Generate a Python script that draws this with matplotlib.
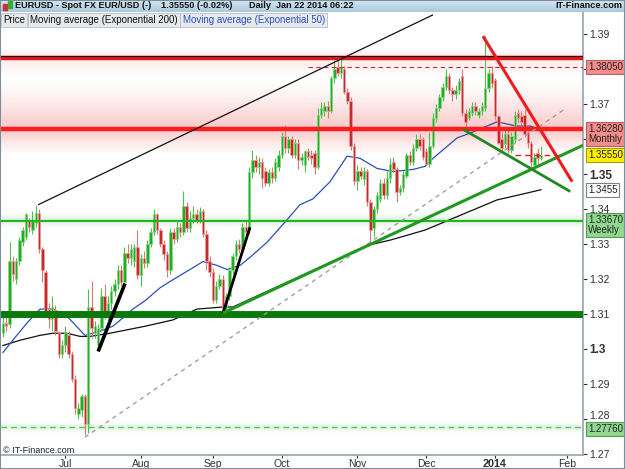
import matplotlib
matplotlib.use("Agg")
import matplotlib.pyplot as plt
import matplotlib.transforms as mtransforms
from matplotlib.colors import LinearSegmentedColormap
from matplotlib.patches import Rectangle
import numpy as np
import pandas as pd

plt.rcParams["font.family"] = ["Liberation Sans", "DejaVu Sans"]

# trading calendar (no bars on Dec 25 / Jan 1)
all_days = pd.bdate_range("2013-06-04", "2014-02-28")
all_days = all_days[~all_days.isin(pd.to_datetime(["2013-12-25", "2014-01-01"]))]
n_bars = 165
dates = all_days[:n_bars]

# EURUSD daily OHLC
opens = [
    1.3045, 1.3075, 1.3070, 1.3250, 1.3200, 1.3250, 1.3305, 1.3320, 1.3365, 1.3340,
    1.3360, 1.3390, 1.3285, 1.3220, 1.3115, 1.3085, 1.3110, 1.3045, 1.2985, 1.3010,
    1.3040, 1.2985, 1.2915, 1.2815, 1.2825, 1.2865, 1.2785, 1.3120, 1.3045, 1.3010,
    1.3060, 1.3150, 1.3100, 1.3130, 1.3165, 1.3185, 1.3225, 1.3190, 1.3275, 1.3260,
    1.3250, 1.3290, 1.3210, 1.3260, 1.3245, 1.3300, 1.3335, 1.3385, 1.3340, 1.3300,
    1.3270, 1.3225, 1.3335, 1.3315, 1.3350, 1.3335, 1.3410, 1.3345, 1.3375, 1.3385,
    1.3370, 1.3395, 1.3330, 1.3250, 1.3220, 1.3140, 1.3180, 1.3200, 1.3115, 1.3150,
    1.3225, 1.3265, 1.3300, 1.3285, 1.3350, 1.3340, 1.3505, 1.3540, 1.3520, 1.3535,
    1.3510, 1.3475, 1.3505, 1.3490, 1.3520, 1.3555, 1.3610, 1.3575, 1.3600, 1.3555,
    1.3590, 1.3540, 1.3525, 1.3565, 1.3555, 1.3560, 1.3520, 1.3670, 1.3680, 1.3695,
    1.3680, 1.3775, 1.3805, 1.3790, 1.3800, 1.3735, 1.3710, 1.3580, 1.3480, 1.3510,
    1.3485, 1.3510, 1.3420, 1.3345, 1.3400, 1.3430, 1.3475, 1.3440, 1.3490, 1.3535,
    1.3515, 1.3450, 1.3460, 1.3495, 1.3555, 1.3535, 1.3575, 1.3600, 1.3600, 1.3565,
    1.3530, 1.3580, 1.3660, 1.3690, 1.3720, 1.3750, 1.3780, 1.3740, 1.3730, 1.3740,
    1.3780, 1.3675, 1.3660, 1.3675, 1.3695, 1.3670, 1.3680, 1.3690, 1.3745, 1.3790,
    1.3770, 1.3665, 1.3600, 1.3585, 1.3615, 1.3570, 1.3600, 1.3675, 1.3665, 1.3670,
    1.3620, 1.3590, 1.3525, 1.3560, 1.3545,
]
highs = [
    1.3090, 1.3095, 1.3305, 1.3265, 1.3260, 1.3320, 1.3350, 1.3390, 1.3375, 1.3395,
    1.3412, 1.3400, 1.3290, 1.3225, 1.3130, 1.3150, 1.3125, 1.3050, 1.3025, 1.3065,
    1.3050, 1.2995, 1.2925, 1.2845, 1.2870, 1.2870, 1.3170, 1.3195, 1.3080, 1.3070,
    1.3175, 1.3185, 1.3150, 1.3180, 1.3200, 1.3240, 1.3240, 1.3290, 1.3300, 1.3300,
    1.3300, 1.3340, 1.3270, 1.3280, 1.3310, 1.3345, 1.3400, 1.3390, 1.3345, 1.3310,
    1.3280, 1.3345, 1.3345, 1.3370, 1.3360, 1.3452, 1.3420, 1.3395, 1.3410, 1.3400,
    1.3405, 1.3400, 1.3340, 1.3265, 1.3230, 1.3195, 1.3215, 1.3210, 1.3160, 1.3235,
    1.3275, 1.3310, 1.3315, 1.3360, 1.3365, 1.3520, 1.3570, 1.3555, 1.3550, 1.3545,
    1.3520, 1.3515, 1.3520, 1.3545, 1.3570, 1.3620, 1.3640, 1.3610, 1.3610, 1.3600,
    1.3600, 1.3560, 1.3570, 1.3575, 1.3570, 1.3570, 1.3690, 1.3705, 1.3705, 1.3710,
    1.3780, 1.3825, 1.3830, 1.3832, 1.3810, 1.3745, 1.3720, 1.3590, 1.3525, 1.3520,
    1.3520, 1.3515, 1.3430, 1.3410, 1.3450, 1.3485, 1.3490, 1.3510, 1.3545, 1.3550,
    1.3520, 1.3470, 1.3510, 1.3560, 1.3565, 1.3585, 1.3615, 1.3615, 1.3605, 1.3575,
    1.3620, 1.3675, 1.3700, 1.3730, 1.3760, 1.3800, 1.3790, 1.3750, 1.3755, 1.3775,
    1.3800, 1.3685, 1.3690, 1.3705, 1.3705, 1.3690, 1.3705, 1.3894, 1.3800, 1.3810,
    1.3775, 1.3670, 1.3620, 1.3625, 1.3625, 1.3620, 1.3680, 1.3685, 1.3680, 1.3685,
    1.3630, 1.3595, 1.3560, 1.3575, 1.3580,
]
lows = [
    1.3035, 1.3050, 1.3060, 1.3195, 1.3185, 1.3240, 1.3295, 1.3310, 1.3335, 1.3330,
    1.3350, 1.3275, 1.3190, 1.3095, 1.3060, 1.3050, 1.3040, 1.2975, 1.2975, 1.2990,
    1.2975, 1.2905, 1.2815, 1.2800, 1.2805, 1.2755, 1.2760, 1.3030, 1.3030, 1.2995,
    1.3050, 1.3085, 1.3080, 1.3115, 1.3150, 1.3170, 1.3180, 1.3185, 1.3245, 1.3240,
    1.3235, 1.3200, 1.3180, 1.3230, 1.3235, 1.3290, 1.3325, 1.3330, 1.3290, 1.3255,
    1.3205, 1.3215, 1.3300, 1.3305, 1.3320, 1.3325, 1.3335, 1.3335, 1.3360, 1.3360,
    1.3360, 1.3320, 1.3225, 1.3205, 1.3130, 1.3130, 1.3170, 1.3103, 1.3103, 1.3140,
    1.3215, 1.3255, 1.3275, 1.3280, 1.3320, 1.3330, 1.3490, 1.3505, 1.3500, 1.3460,
    1.3465, 1.3465, 1.3475, 1.3480, 1.3510, 1.3545, 1.3560, 1.3560, 1.3545, 1.3545,
    1.3515, 1.3525, 1.3505, 1.3540, 1.3530, 1.3500, 1.3515, 1.3660, 1.3665, 1.3660,
    1.3675, 1.3760, 1.3780, 1.3775, 1.3730, 1.3700, 1.3570, 1.3470, 1.3455, 1.3485,
    1.3470, 1.3410, 1.3296, 1.3320, 1.3390, 1.3420, 1.3430, 1.3430, 1.3475, 1.3505,
    1.3420, 1.3440, 1.3450, 1.3490, 1.3525, 1.3525, 1.3565, 1.3570, 1.3540, 1.3525,
    1.3520, 1.3575, 1.3650, 1.3680, 1.3710, 1.3740, 1.3730, 1.3710, 1.3715, 1.3730,
    1.3665, 1.3625, 1.3655, 1.3665, 1.3670, 1.3660, 1.3670, 1.3680, 1.3735, 1.3745,
    1.3655, 1.3585, 1.3565, 1.3575, 1.3560, 1.3560, 1.3590, 1.3645, 1.3640, 1.3605,
    1.3575, 1.3520, 1.3508, 1.3530, 1.3540,
]
closes = [
    1.3075, 1.3065, 1.3250, 1.3215, 1.3250, 1.3310, 1.3340, 1.3385, 1.3350, 1.3370,
    1.3390, 1.3285, 1.3225, 1.3105, 1.3085, 1.3120, 1.3050, 1.2985, 1.3010, 1.3045,
    1.2985, 1.2915, 1.2830, 1.2830, 1.2865, 1.2785, 1.3120, 1.3060, 1.3065, 1.3060,
    1.3150, 1.3100, 1.3130, 1.3165, 1.3185, 1.3225, 1.3190, 1.3275, 1.3260, 1.3285,
    1.3290, 1.3210, 1.3260, 1.3245, 1.3300, 1.3335, 1.3385, 1.3340, 1.3300, 1.3270,
    1.3225, 1.3335, 1.3315, 1.3350, 1.3335, 1.3410, 1.3345, 1.3375, 1.3385, 1.3370,
    1.3395, 1.3330, 1.3250, 1.3220, 1.3140, 1.3180, 1.3200, 1.3115, 1.3150, 1.3225,
    1.3265, 1.3300, 1.3285, 1.3350, 1.3335, 1.3505, 1.3540, 1.3520, 1.3535, 1.3490,
    1.3475, 1.3505, 1.3490, 1.3535, 1.3555, 1.3610, 1.3575, 1.3600, 1.3555, 1.3590,
    1.3540, 1.3550, 1.3565, 1.3550, 1.3545, 1.3520, 1.3670, 1.3690, 1.3695, 1.3680,
    1.3775, 1.3800, 1.3790, 1.3805, 1.3735, 1.3710, 1.3580, 1.3480, 1.3510, 1.3495,
    1.3510, 1.3420, 1.3340, 1.3400, 1.3440, 1.3475, 1.3440, 1.3490, 1.3530, 1.3515,
    1.3450, 1.3460, 1.3500, 1.3555, 1.3535, 1.3575, 1.3600, 1.3580, 1.3550, 1.3530,
    1.3580, 1.3660, 1.3690, 1.3720, 1.3750, 1.3780, 1.3740, 1.3730, 1.3740, 1.3765,
    1.3675, 1.3650, 1.3680, 1.3695, 1.3680, 1.3680, 1.3695, 1.3745, 1.3790, 1.3760,
    1.3665, 1.3590, 1.3575, 1.3615, 1.3570, 1.3610, 1.3670, 1.3660, 1.3650, 1.3615,
    1.3590, 1.3535, 1.3550, 1.3545, 1.3555,
]

# moving averages, read at sample bars (bar index, price)
ema50_bar = [0, 3, 7.3, 11.3, 15.2, 19.5, 23.5, 25, 29.6, 33.5, 37.2, 39.6, 43.3, 47.9,
             51.8, 57, 61, 65.2, 68.3, 72.3, 75.3, 80.5, 86, 90.5, 94.5, 99.7, 104.9,
             108.8, 114, 118.9, 125, 128.7, 131.1, 138.4, 142.4, 150.6, 156.7, 160.7, 164]
ema50_val = [1.2990, 1.3025, 1.3074, 1.3114, 1.3114, 1.3094, 1.3054, 1.3039, 1.3051,
             1.3065, 1.3094, 1.3114, 1.3138, 1.3175, 1.3198, 1.3227, 1.3250, 1.3239,
             1.3227, 1.3239, 1.3262, 1.3305, 1.3363, 1.3412, 1.3429, 1.3478, 1.3551,
             1.3545, 1.3516, 1.3507, 1.3513, 1.3522, 1.3545, 1.3603, 1.3617, 1.3649,
             1.3637, 1.3637, 1.3626]
ema200_bar = [0, 5.2, 11.3, 15.2, 19.5, 23.5, 26.5, 32.6, 43.3, 51.8, 59.1, 67.1, 70.1,
              99.7, 111, 118, 128.7, 150.6, 157.6, 164]
ema200_val = [1.3010, 1.3025, 1.3039, 1.3045, 1.3045, 1.3036, 1.3036, 1.3045, 1.3065,
              1.3083, 1.3114, 1.3120, 1.3120, 1.3247, 1.3296, 1.3311, 1.3340, 1.3426,
              1.3441, 1.3455]

# support / resistance levels
level_top = 1.3832
level_dashed_top = 1.3805
level_monthly = 1.3628
level_last = 1.3555
level_ema200 = 1.3455
level_weekly = 1.3367
level_big_support = 1.3100
level_low = 1.2776

# drawn trend lines: (bar0, price0, bar1, price1)
channel_upper = (10.7, 1.3412, 131.1, 1.3955)
channel_lower = (25.0, 1.2748, 171.3, 1.3686)
july_trend = (29.0, 1.2993, 37.2, 1.3187)
sept_trend = (67.1, 1.3103, 75.3, 1.3348)
green_up = (67.1, 1.3103, 176.8, 1.3582)
green_down = (140.2, 1.3628, 172.9, 1.3450)
red_down = (146.3, 1.3894, 173.5, 1.3478)

month_labels = ["Jul", "Aug", "Sep", "Oct", "Nov", "Dec", "2014", "Feb"]
y_ticks = [1.27, 1.28, 1.29, 1.30, 1.31, 1.32, 1.33, 1.34, 1.35, 1.36, 1.37, 1.38, 1.39]
hidden_ticks = [1.36, 1.38]   # covered by the level boxes on the original

header_parts = ["EURUSD - Spot FX EUR/USD (-)", "1.35550 (-0.02%)",
                "Daily  Jan 22 2014 06:22"]

W, H = 625, 469
fig = plt.figure(figsize=(W / 100, H / 100), dpi=100)
fig.patch.set_facecolor("white")
ax = fig.add_axes([1 / W, 14 / H, 582 / W, 443 / H])
x_max = 176.8
ax.set_xlim(-0.6, x_max)
ax.set_ylim(1.26971, 1.39629)


def glow(level, up, down, color, amax, z=0.5, steps=24):
    for k in range(steps):
        a = amax * (1 - k / steps) ** 1.3
        ax.axhspan(level + up * k / steps, level + up * (k + 1) / steps,
                   color=color, alpha=a, lw=0, zorder=z)
        ax.axhspan(level - down * (k + 1) / steps, level - down * k / steps,
                   color=color, alpha=a, lw=0, zorder=z)


glow(level_monthly, 0.0140, 0.0075, "#f04848", 0.30)
glow(level_top, 0.0030, 0.0060, "#f04848", 0.12)
glow(level_weekly, 0.0022, 0.0022, "#30b030", 0.20)
glow(level_low, 0.0018, 0.0018, "#30b030", 0.15)

# moving averages
ax.plot(ema200_bar, ema200_val, color="#101010", lw=0.9, zorder=2)
ax.plot(ema50_bar, ema50_val, color="#2a4fb8", lw=0.9, zorder=2)

# candles
x = np.arange(n_bars)
o = np.array(opens)
h = np.array(highs)
l = np.array(lows)
c = np.array(closes)
up = c >= o
body = np.maximum(np.abs(c - o), 0.00025)
bottom = np.minimum(o, c)
ax.vlines(x[up], l[up], h[up], color="#4cc04c", lw=0.8, zorder=3)
ax.vlines(x[~up], l[~up], h[~up], color="#d87a7a", lw=0.8, zorder=3)
ax.bar(x[up], body[up], bottom=bottom[up], width=0.75, color="#1fae1f",
       edgecolor="#8ad88a", linewidth=0.5, zorder=4)
ax.bar(x[~up], body[~up], bottom=bottom[~up], width=0.75, color="#c62a2a",
       edgecolor="#eaa0a0", linewidth=0.5, zorder=4)

# horizontal levels
ax.axhline(level_top, color="#e01818", lw=3.2, zorder=5)
ax.axhline(level_top + 0.0004, color="#200000", lw=0.8, zorder=5)
ax.plot([93, x_max], [level_dashed_top] * 2, color="#e02020", lw=0.8, ls=(0, (4, 3)), zorder=5)
ax.axhline(level_monthly, color="#ff1c1c", lw=3.2, zorder=5)
ax.plot([156, 170], [level_last] * 2, color="#e02020", lw=1.0, ls=(0, (4, 3)), zorder=5)
ax.axhline(level_weekly, color="#22b422", lw=1.5, zorder=5)
ax.axhline(level_big_support, color="#0a7a0a", lw=5, zorder=5)
ax.axhline(level_low, color="#5cc05c", lw=1.0, ls=(0, (4, 3)), zorder=5)


# trend lines
def seg(t, **kw):
    ax.plot([t[0], t[2]], [t[1], t[3]], solid_capstyle="butt", zorder=6, **kw)


seg(channel_upper, color="#101010", lw=0.9)
seg(channel_lower, color="#a0a0a0", lw=1.0, ls=(0, (3, 3)))
seg(july_trend, color="#000000", lw=2.6)
seg(sept_trend, color="#000000", lw=2.0)
seg(green_up, color="#1f9a1f", lw=2.2)
seg(green_down, color="#1f8a1f", lw=2.0)
seg(red_down, color="#ee1c1c", lw=2.2)

# axes styling
for s in ["left", "top"]:
    ax.spines[s].set_visible(False)
for s in ["right", "bottom"]:
    ax.spines[s].set_color("#98a4b0")
    ax.spines[s].set_linewidth(1.2)

ax.yaxis.tick_right()
ax.set_yticks(y_ticks)
ax.set_yticklabels(["" if round(v, 2) in hidden_ticks else f"{round(v, 2):g}"
                    for v in y_ticks])
ax.tick_params(axis="y", direction="out", length=3, pad=1.5, labelsize=7.5,
               colors="#303030")
nudge_up = mtransforms.ScaledTranslation(0, 3 / 72, fig.dpi_scale_trans)
for t, v in zip(ax.get_yticklabels(), y_ticks):
    if round(v, 2) in (1.30, 1.35):
        t.set_fontweight("bold")
        t.set_fontsize(8.5)
    if round(v, 2) == 1.28:
        t.set_transform(t.get_transform() + nudge_up)

month_pos = []
for ym in ["2013-07", "2013-08", "2013-09", "2013-10", "2013-11", "2013-12",
           "2014-01", "2014-02"]:
    month_pos.append(int(np.argmax(all_days.strftime("%Y-%m") == ym)))
ax.set_xticks(month_pos)
ax.set_xticklabels(month_labels)
ax.tick_params(axis="x", direction="out", length=2.5, pad=0.5, labelsize=7.5,
               colors="#303030")
for t in ax.get_xticklabels():
    if t.get_text() == "2014":
        t.set_fontweight("bold")
        t.set_fontsize(7.8)

# value boxes on the price axis
blend = mtransforms.blended_transform_factory(ax.transAxes, ax.transData)
boxes = [
    (level_dashed_top, "1.38050", "#f48c8c", "#b86060", 0),
    (level_monthly, "1.36280\nMonthly", "#f48c8c", "#b86060", 4),
    (level_last, "1.35550", "#ffee00", "#a89c00", 0),
    (level_ema200, "1.3455", "#ffffff", "#808080", 0),
    (level_weekly, "1.33670\nWeekly", "#90d890", "#4f9f4f", 4),
    (level_low, "1.27760", "#90d890", "#4f9f4f", -1),
]
for val, txt, fc, ec, dy in boxes:
    two_lines = "\n" in txt
    ax.annotate(txt, xy=(1, val), xycoords=blend, xytext=(3.5, dy),
                textcoords="offset points", va="top" if two_lines else "center",
                ha="left", fontsize=7, color="#202020", zorder=10,
                annotation_clip=False, linespacing=1.05,
                bbox=dict(boxstyle="square,pad=0.2", fc=fc, ec=ec, lw=0.8))

# header bar
hdr = fig.add_axes([0, 1 - 12 / H, 1, 12 / H])
grad = np.linspace(0, 1, 50).reshape(-1, 1)
cmap = LinearSegmentedColormap.from_list("hdr", ["#d6e8f2", "#a9c9dc"])
hdr.imshow(grad, aspect="auto", cmap=cmap, extent=[0, 1, 0, 1])
hdr.set_xlim(0, 1)
hdr.set_ylim(0, 1)
hdr.axis("off")
hdr.add_patch(Rectangle((3 / W, 0.15), 3.5 / W, 0.55, color="#d03030"))
hdr.add_patch(Rectangle((8 / W, 0.3), 3.5 / W, 0.6, color="#30b030"))
hkw = dict(fontsize=6.6, fontweight="bold", va="center", color="#101010")
renderer = fig.canvas.get_renderer()
hx = 15
for part, gap in zip(header_parts, [10, 16, 0]):
    t = hdr.text(hx / W, 0.5, part, **hkw)
    hx = t.get_window_extent(renderer).x1 + gap
hdr.text(622 / W, 0.5, "IT-Finance.com", ha="right", **hkw)

# legend row
px = 3
for txt, col in [("Price", "#101010"),
                 ("Moving average (Exponential 200)", "#101010"),
                 ("Moving average (Exponential 50)", "#2a4fb8")]:
    t = fig.text(px / W, 1 - 20 / H, txt, fontsize=7, color=col, va="center",
                 bbox=dict(boxstyle="square,pad=0.25", fc="#e6eaee", ec="#b4bec8", lw=0.6))
    bb = t.get_window_extent(renderer)
    px = bb.x1 + 5

fig.text(3 / W, 1 - 450 / H, "\u00a9 IT-Finance.com", fontsize=6.5, va="center",
         color="#202020")

fig.patches.append(Rectangle((0, 0), 1, 1, transform=fig.transFigure, fill=False,
                             ec="#7d8d9c", lw=1.5))

fig.savefig("out.png", dpi=100)
